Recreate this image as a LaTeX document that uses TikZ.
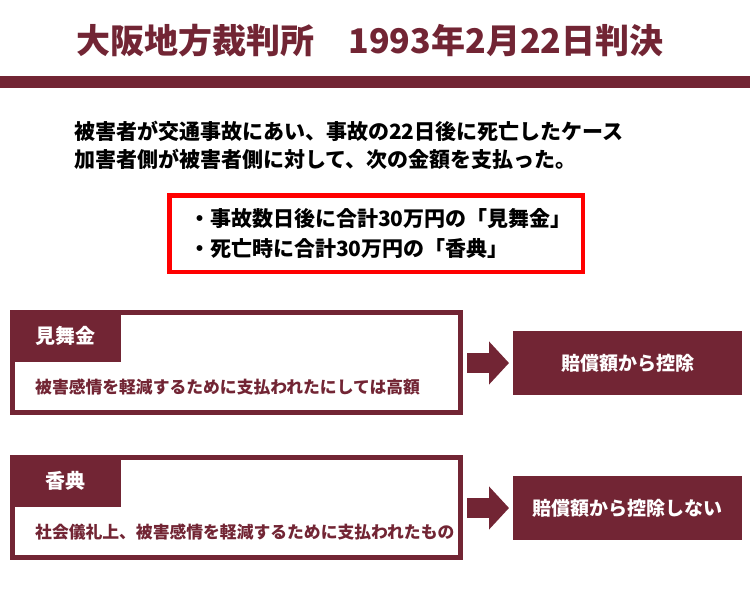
\documentclass[tikz,border=0pt]{standalone}
\usepackage{fontspec}
\setmainfont{Noto Sans CJK JP}
\usetikzlibrary{arrows.meta,calc}
\definecolor{maroon}{RGB}{114,37,52}
\tikzset{
  titletext/.style={text=maroon,font=\fontsize{34}{39}\selectfont\bfseries,inner sep=0},
  bodytext/.style={text=black,font=\fontsize{21}{25}\selectfont\bfseries,inner sep=0,anchor=west},
  frame/.style={draw=maroon,line width=5pt,fill=white,anchor=north west,inner sep=0,minimum width=448pt,minimum height=100pt},
  tab/.style={fill=maroon,anchor=north west,inner sep=0,outer sep=0,minimum width=111pt,minimum height=52pt,text=white,font=\fontsize{20}{24}\selectfont\bfseries},
  boxtext/.style={text=maroon,font=\fontsize{16.8}{20}\selectfont\bfseries,inner sep=0,anchor=west},
  result/.style={fill=maroon,anchor=north west,inner sep=0,outer sep=0,minimum width=229pt,minimum height=64pt,text=white,font=\fontsize{19}{23}\selectfont\bfseries},
  blockarrow/.style={maroon,line width=20pt,-{Triangle[length=20pt,width=42pt]},shorten <=4pt,shorten >=4pt},
  redframe/.style={draw=red,line width=4.5pt,anchor=north west,inner sep=0,minimum width=413.5pt,minimum height=76.5pt}
}
\begin{document}
\begin{tikzpicture}[x=1pt,y=-1pt]
\useasboundingbox[fill=white] (0,0) rectangle (750,600);
% title
\node[titletext] (title) at (370,41) {大阪地方裁判所　1993年2月22日判決};
\fill[maroon] (0,76) rectangle (750,88);
% intro
\node[bodytext] (l1) at (74,131) {被害者が交通事故にあい、事故の22日後に死亡したケース};
\node[bodytext] (l2) at (74,159) {加害者側が被害者側に対して、次の金額を支払った。};
% red box
\node[redframe] (red) at (167,193) {};
\node[bodytext] (r1) at (189,219) {・事故数日後に合計30万円の「見舞金」};
\node[bodytext] (r2) at (189,248) {・死亡時に合計30万円の「香典」};
% box 1
\node[frame] (box1) at (10,310) {};
\node[tab] (tab1) at (10,310) {見舞金};
\node[boxtext] (t1) at (35,387) {被害感情を軽減するために支払われたにしては高額};
\node[result] (res1) at (513,331) {賠償額から控除};
\draw[blockarrow] (box1.east |- res1.west) -- (res1.west);
% box 2
\node[frame] (box2) at (10,455) {};
\node[tab] (tab2) at (10,455) {香典};
\node[boxtext] (t2) at (35,532) {社会儀礼上、被害感情を軽減するために支払われたもの};
\node[result] (res2) at (513,476) {賠償額から控除しない};
\draw[blockarrow] (box2.east |- res2.west) -- (res2.west);
\end{tikzpicture}
\end{document}
